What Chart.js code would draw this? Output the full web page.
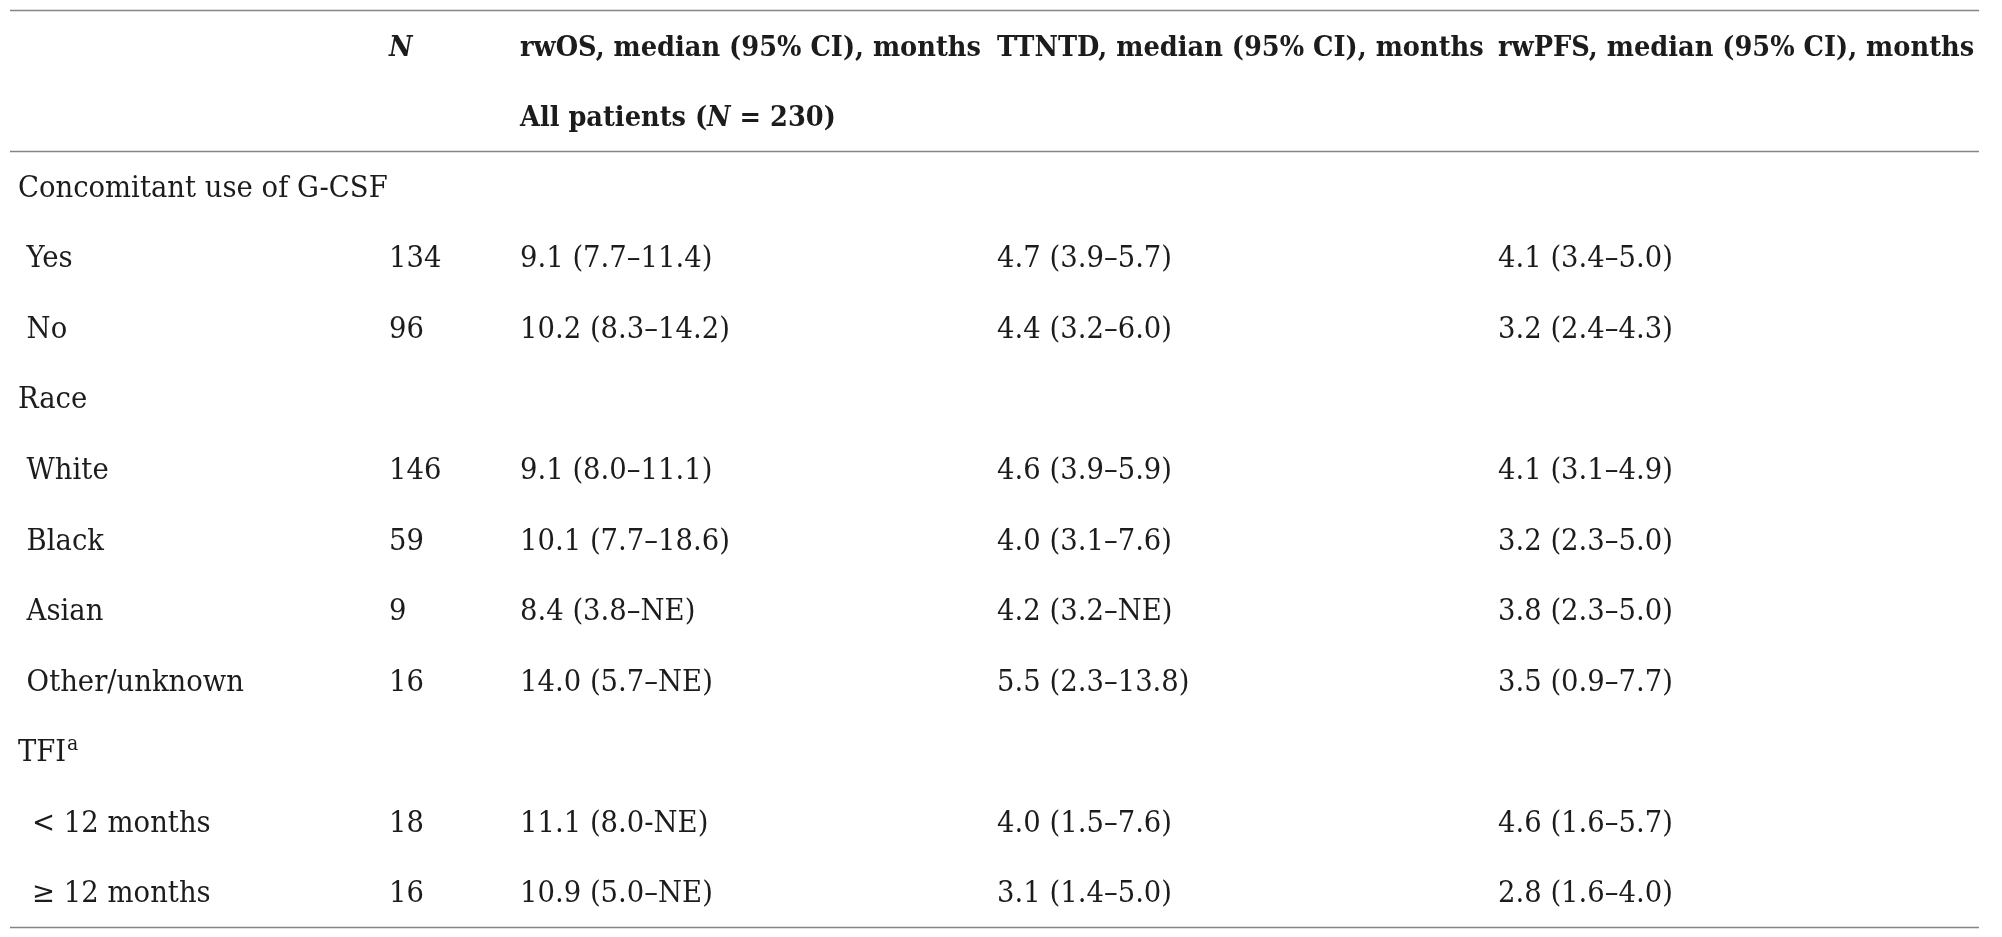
<!DOCTYPE html>
<html>
<head>
<meta charset="utf-8">
<script src="https://cdn.jsdelivr.net/npm/chart.js@4.4.1/dist/chart.umd.min.js"></script>
<style>
  html, body { margin: 0; padding: 0; background: #fff; }
  canvas { display: block; }
</style>
</head>
<body>
<canvas id="tableChart" width="2002" height="937"></canvas>
<script>
// Table values
var columnHeaders = ['*N*', 'rwOS, median (95% CI), months', 'TTNTD, median (95% CI), months', 'rwPFS, median (95% CI), months'];
var subHeader = 'All patients (*N* = 230)';
var groups = ['Concomitant use of G-CSF', 'Race', 'TFI^a'];
var subgroups = [
	[' Yes', ' No'],
	[' White', ' Black', ' Asian', ' Other/unknown'],
	[' \u2009< 12 months', ' \u2009\u2265 12 months']
];
var nValues = [134, 96, 146, 59, 9, 16, 18, 16];
var rwOS = ['9.1 (7.7\u201311.4)', '10.2 (8.3\u201314.2)', '9.1 (8.0\u201311.1)', '10.1 (7.7\u201318.6)', '8.4 (3.8\u2013NE)', '14.0 (5.7\u2013NE)', '11.1 (8.0-NE)', '10.9 (5.0\u2013NE)'];
var ttntd = ['4.7 (3.9\u20135.7)', '4.4 (3.2\u20136.0)', '4.6 (3.9\u20135.9)', '4.0 (3.1\u20137.6)', '4.2 (3.2\u2013NE)', '5.5 (2.3\u201313.8)', '4.0 (1.5\u20137.6)', '3.1 (1.4\u20135.0)'];
var rwPFS = ['4.1 (3.4\u20135.0)', '3.2 (2.4\u20134.3)', '4.1 (3.1\u20134.9)', '3.2 (2.3\u20135.0)', '3.8 (2.3\u20135.0)', '3.5 (0.9\u20137.7)', '4.6 (1.6\u20135.7)', '2.8 (1.6\u20134.0)'];

// column anchors, % of table width
var colX = [0.4, 19.25, 25.9, 50.13, 75.57];

// build cells: rows 0-1 header, then groups + subgroups
var cells = [];
columnHeaders.forEach(function (h, i) { cells.push({ x: colX[i + 1], y: 0, t: h, bold: true }); });
cells.push({ x: colX[2], y: 1, t: subHeader, bold: true });
var row = 2, k = 0;
groups.forEach(function (g, gi) {
	cells.push({ x: colX[0], y: row++, t: g });
	subgroups[gi].forEach(function (s) {
		cells.push({ x: colX[0], y: row, t: s });
		cells.push({ x: colX[1], y: row, t: String(nValues[k]) });
		cells.push({ x: colX[2], y: row, t: rwOS[k] });
		cells.push({ x: colX[3], y: row, t: ttntd[k] });
		cells.push({ x: colX[4], y: row, t: rwPFS[k] });
		row++; k++;
	});
});
var nRows = row;

var FAMILY = '"DejaVu Serif", serif';
var bodyFont = { size: 29, weight: 'normal' };
var headFont = { size: 28, weight: 'bold' };

function fontStr(f, italic, size) {
	return (italic ? 'italic ' : '') + f.weight + ' ' + (size || f.size) + 'px ' + FAMILY;
}

// split "*N*" (italic) and "^a" (superscript) into parts
function parts(t) {
	var out = [], re = /(\*[^*]+\*|\^\w+)/g, last = 0, m;
	while ((m = re.exec(t))) {
		if (m.index > last) out.push({ s: t.slice(last, m.index) });
		if (m[0][0] === '*') out.push({ s: m[0].slice(1, -1), it: true });
		else out.push({ s: m[0].slice(1), sup: true });
		last = re.lastIndex;
	}
	if (last < t.length) out.push({ s: t.slice(last) });
	return out;
}

var condense = {};
function squeeze(ctx, f, sample, target) {
	ctx.font = fontStr(f);
	return target / ctx.measureText(sample).width;
}

var tablePlugin = {
	id: 'tableText',
	afterDatasetsDraw: function (chart) {
		var ctx = chart.ctx, xs = chart.scales.x, ys = chart.scales.y;
		if (!condense.body) {
			condense.body = squeeze(ctx, bodyFont, '4.1 (3.4\u20135.0)', 175);
			condense.head = squeeze(ctx, headFont, 'rwOS, median (95% CI), months', 461);
		}
		// rules
		ctx.save();
		ctx.strokeStyle = '#858585';
		ctx.lineWidth = 1.5;
		[-0.5, 1.5, nRows - 0.5].forEach(function (v) {
			var y = Math.round(ys.getPixelForValue(v)) + 0.5;
			ctx.beginPath();
			ctx.moveTo(xs.left, y);
			ctx.lineTo(xs.right, y);
			ctx.stroke();
		});
		ctx.restore();

		chart.data.datasets[0].data.forEach(function (c) {
			var f = c.bold ? headFont : bodyFont;
			var sx = c.bold ? condense.head : condense.body;
			var px = xs.getPixelForValue(c.x), py = ys.getPixelForValue(c.y) + 3;
			ctx.save();
			ctx.translate(px, py);
			ctx.scale(sx, 1);
			ctx.fillStyle = '#1c1c1c';
			ctx.textBaseline = 'middle';
			ctx.textAlign = 'left';
			var cx = 0;
			parts(c.t).forEach(function (p) {
				if (p.sup) {
					ctx.font = fontStr(f, false, Math.round(f.size * 0.7));
					ctx.fillText(p.s, cx + 1, -f.size * 0.3);
				} else {
					ctx.font = fontStr(f, p.it);
					ctx.fillText(p.s, cx, 0);
				}
				cx += ctx.measureText(p.s).width + (p.sup ? 1 : 0);
			});
			ctx.restore();
		});
	}
};

var ctxTable = document.getElementById('tableChart').getContext('2d');
var tableChart = new Chart(ctxTable, {
	type: 'scatter',
	data: {
		datasets: [{
			label: 'cells',
			data: cells,
			pointRadius: 0,
			pointHoverRadius: 0
		}]
	},
	options: {
		responsive: false,
		devicePixelRatio: 1,
		animation: false,
		layout: { padding: { left: 10, right: 23, top: 10, bottom: 10 } },
		plugins: { legend: { display: false }, tooltip: { enabled: false } },
		scales: {
			x: { type: 'linear', min: 0, max: 100, display: false },
			y: { type: 'linear', min: -0.5, max: nRows - 0.5, reverse: true, display: false }
		}
	},
	plugins: [tablePlugin]
});
</script>
</body>
</html>
